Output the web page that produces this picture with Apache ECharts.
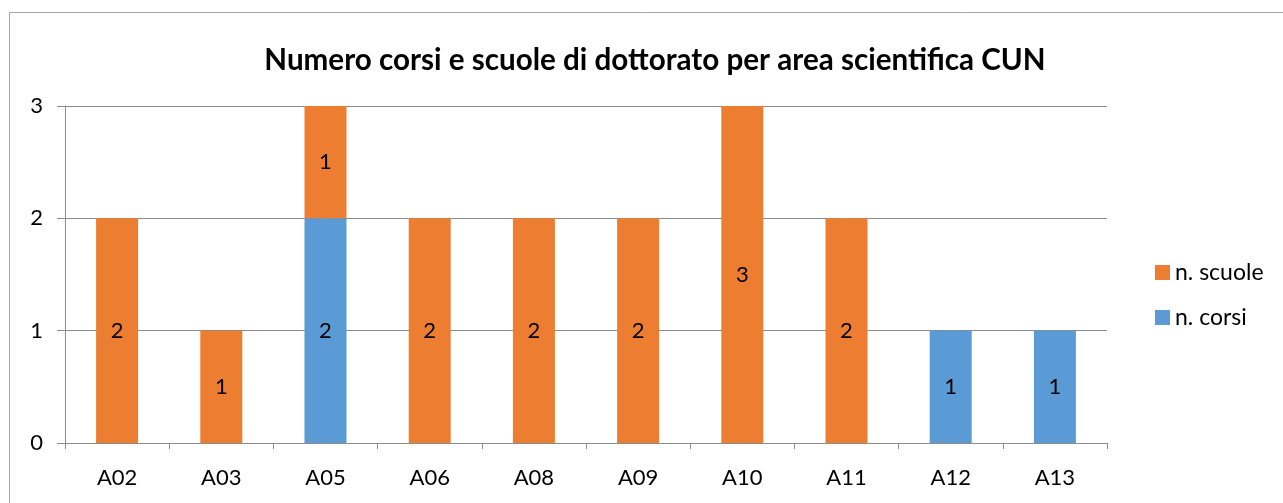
<!DOCTYPE html>
<html>
<head>
<meta charset="utf-8">
<script src="https://cdn.jsdelivr.net/npm/echarts@6/dist/echarts.min.js"></script>
<style>
	html, body { margin: 0; padding: 0; background: #fff; }
	#chart { width: 1283px; height: 503px; }
</style>
</head>
<body>
<div id="chart"></div>
<script>
	// dati
	const aree = ['A02', 'A03', 'A05', 'A06', 'A08', 'A09', 'A10', 'A11', 'A12', 'A13'];
	const nCorsi = [0, 0, 2, 0, 0, 0, 0, 0, 1, 1];
	const nScuole = [2, 1, 1, 2, 2, 2, 3, 2, 0, 0];
	const yTicks = [0, 1, 2, 3];

	const font = 'Lato, "Open Sans", sans-serif';
	const grigio = '#8c8c8c';

	let chart = echarts.init(document.getElementById('chart'));
	const labelOpt = {
		show: true,
		position: 'inside',
		color: '#000',
		fontSize: 22,
		fontFamily: font,
		formatter: p => (p.value ? p.value : '')
	};
	const option = {
		animation: false,
		title: {
			text: 'Numero corsi e scuole di dottorato per area scientifica CUN',
			left: 650,
			textAlign: 'center',
			top: 40,
			textStyle: { fontSize: 29.6, fontWeight: 'bold', color: '#000', fontFamily: font }
		},
		legend: {
			orient: 'vertical',
			left: 1150,
			top: 256,
			icon: 'rect',
			itemWidth: 15,
			itemHeight: 15,
			itemGap: 22,
			data: ['n. scuole', 'n. corsi'],
			textStyle: { fontSize: 23, color: '#000', fontFamily: font }
		},
		grid: { left: 65, right: 176, top: 106, bottom: 60 },
		xAxis: {
			type: 'category',
			data: aree,
			boundaryGap: true,
			axisLine: { lineStyle: { color: grigio, width: 1 } },
			axisTick: { show: true, length: 6, lineStyle: { color: grigio } },
			axisLabel: { color: '#000', fontSize: 22, margin: 24, fontFamily: font }
		},
		yAxis: {
			type: 'value',
			min: yTicks[0],
			max: yTicks[yTicks.length - 1],
			interval: 1,
			axisLine: { show: true, lineStyle: { color: grigio, width: 1 } },
			axisTick: { show: true, length: 8, inside: false, lineStyle: { color: grigio } },
			splitLine: { lineStyle: { color: grigio, width: 1 } },
			axisLabel: { color: '#000', fontSize: 22, margin: 22, fontFamily: font }
		},
		graphic: [{
			type: 'polyline',
			shape: { points: [[9.5, 520], [9.5, 12.5], [1300, 12.5]] },
			style: { stroke: '#a6a6a6', lineWidth: 1, fill: null },
			silent: true
		}],
		series: [
			{
				name: 'n. corsi',
				type: 'bar',
				stack: 'tot',
				barWidth: 42,
				data: nCorsi,
				itemStyle: { color: '#5B9BD5' },
				label: labelOpt
			},
			{
				name: 'n. scuole',
				type: 'bar',
				stack: 'tot',
				barWidth: 42,
				data: nScuole,
				itemStyle: { color: '#ED7D31' },
				label: labelOpt
			}
		]
	};
	chart.setOption(option);
	window.addEventListener('resize', () => {
		chart.resize();
	});
</script>
</body>
</html>
